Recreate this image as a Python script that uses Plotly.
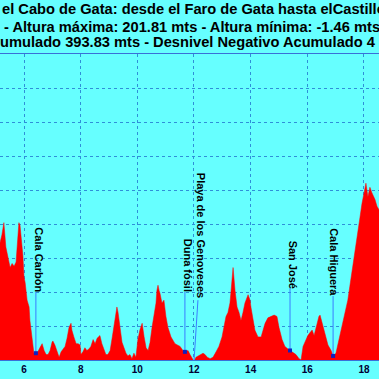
import plotly.graph_objects as go

# ---- data (km along route, elevation in m) ----
km = [5.10, 5.15, 5.22, 5.29, 5.36, 5.44, 5.51, 5.58, 5.65, 5.72, 5.79,
      5.82, 5.86, 5.89, 5.96, 6.00, 6.04, 6.11, 6.18, 6.21, 6.28,
      6.32, 6.35, 6.42, 6.49, 6.56, 6.64, 6.71, 6.78, 6.85, 6.92,
      6.99, 7.02, 7.09, 7.16, 7.24, 7.31, 7.38, 7.45, 7.52, 7.59,
      7.66, 7.69, 7.76, 7.84, 7.91, 7.98, 8.01, 8.08, 8.15, 8.22,
      8.29, 8.36, 8.44, 8.51, 8.58, 8.65, 8.68, 8.75, 8.82, 8.89,
      8.96, 9.04, 9.11, 9.18, 9.25, 9.28, 9.32, 9.39, 9.46, 9.53,
      9.60, 9.67, 9.74, 9.81, 9.88, 9.95, 10.02, 10.09, 10.17, 10.24,
      10.31, 10.38, 10.45, 10.52, 10.59, 10.66, 10.69, 10.73, 10.77, 10.80,
      10.87, 10.94, 11.01, 11.08, 11.19, 11.33, 11.51, 11.61, 11.68, 11.79,
      11.86, 11.93, 12.00, 12.07, 12.14, 12.21, 12.32, 12.39, 12.47, 12.57,
      12.67, 12.78, 12.88, 12.99, 13.06, 13.13, 13.20, 13.27, 13.31, 13.38,
      13.45, 13.52, 13.59, 13.66, 13.73, 13.80, 13.91, 13.98, 14.01, 14.08,
      14.15, 14.26, 14.37, 14.44, 14.51, 14.61, 14.72, 14.83, 14.93, 15.00,
      15.11, 15.21, 15.32, 15.39, 15.50, 15.60, 15.71, 15.78, 15.85, 15.95,
      16.02, 16.09, 16.17, 16.24, 16.34, 16.41, 16.45, 16.52, 16.62, 16.73,
      16.84, 16.91, 17.01, 17.12, 17.22, 17.33, 17.43, 17.50, 17.58, 17.65,
      17.72, 17.79, 17.86, 17.93, 18.00, 18.07, 18.14, 18.21, 18.28, 18.39,
      18.46, 18.53, 18.60]
elev = [84, 86, 92, 101, 83, 75, 68, 71, 69, 72, 96,
        101, 99, 93, 77, 61, 57, 44, 39, 29, 18,
        10, 5, 5, 6, 9, 12, 7, 4, 4, 7,
        13, 14, 11, 6, 2, 6, 8, 10, 16, 24,
        27, 22, 17, 12, 12, 11, 4, 6, 9, 7,
        8, 10, 15, 12, 16, 18, 18, 12, 8, 4,
        4, 7, 16, 26, 35, 39, 35, 24, 13, 9,
        5, 3, 4, 1, 5, 2, 15, 22, 27, 17,
        9, 7, 13, 24, 32, 42, 51, 55, 51, 49,
        42, 44, 32, 24, 17, 12, 10, 7, 6, 7,
        4, 1, -1, 2, 3, 4, 5, 4, 2, 1,
        2, 6, 10, 17, 24, 32, 35, 42, 51, 68,
        51, 39, 35, 29, 35, 42, 48, 44, 39, 29,
        22, 17, 17, 22, 27, 31, 32, 33, 32, 24,
        15, 10, 8, 7, 5, 4, 1, 0, 10, 15,
        18, 20, 22, 18, 27, 32, 33, 27, 20, 11,
        7, 3, 5, 15, 24, 35, 44, 54, 66, 74,
        88, 98, 105, 115, 123, 130, 120, 127, 123, 118,
        113, 110, 108]

wp_names = ["Cala Carbón", "Duna fósil", "Playa de los Genoveses", "San José", "Cala Higuera"]
wp_km = [6.42, 11.68, 12.00, 15.39, 16.91]
wp_elev = [5, 6, -1, 7, 3]

tick_vals = [6, 8, 10, 12, 14, 16, 18]
tick_text = ["6", "8", "10", "12", "14", "16", "18"]

title_lines = [
    "el Cabo de Gata: desde el Faro de Gata hasta elCastillo de los Escullos",
    "- Altura máxima: 201.81 mts - Altura mínima: -1.46 mts",
    "umulado 393.83 mts - Desnivel Negativo Acumulado 4",
]

# ---- layout/style constants ----
BG = "#66FFFF"
GRID = "#2F8FD8"
BORDER = "#3A6FD8"
W = H = 379
M_T, M_B = 54, 19
PLOT_H = H - M_T - M_B
label_km = [6.53, 11.79, 12.25, 15.50, 16.94]
label_y = [74, 70, 92, 70, 72]
line_top_km = [6.42, 11.68, 12.14, 15.39, 16.91]
line_top_y = [50, 50, 44, 53, 47]
title_px_y = [9.0, 27.0, 42.5]
title_px_x = [-0.5, 2.0, -2.5]

fig = go.Figure()
fig.add_trace(go.Scatter(x=km, y=elev, mode="lines", fill="tozeroy",
                         line=dict(color="#FF0000", width=0.5),
                         fillcolor="#FF0000", hoverinfo="skip"))

for i in range(len(wp_names)):
    fig.add_trace(go.Scatter(x=[wp_km[i], line_top_km[i]], y=[wp_elev[i], line_top_y[i]],
                             mode="lines", line=dict(color="#3A7CFF", width=1),
                             hoverinfo="skip", cliponaxis=False))
fig.add_trace(go.Scatter(x=wp_km, y=wp_elev, mode="markers",
                         marker=dict(symbol="square", size=4, color="#1020C0"),
                         cliponaxis=False, hoverinfo="skip"))

for i, name in enumerate(wp_names):
    fig.add_annotation(x=label_km[i], y=label_y[i], xref="x", yref="y",
                       text="<b>" + name + "</b>", textangle=90, showarrow=False,
                       xanchor="center", yanchor="middle",
                       font=dict(family="Liberation Sans, Arial", size=11, color="#000000"))

for i, t in enumerate(title_lines):
    fig.add_annotation(x=title_px_x[i] / W, y=(H - M_B - title_px_y[i]) / PLOT_H,
                       xref="paper", yref="paper", text="<b>" + t + "</b>",
                       showarrow=False, xanchor="left", yanchor="middle",
                       font=dict(family="Liberation Sans, Arial", size=14.67, color="#000000"))

fig.update_layout(
    width=W, height=H, showlegend=False,
    margin=dict(l=0, r=0, t=M_T, b=M_B, pad=0),
    paper_bgcolor=BG, plot_bgcolor=BG,
    xaxis=dict(range=[5.153, 18.531], tickvals=tick_vals, ticktext=tick_text,
               showgrid=True, gridcolor=GRID, griddash="dot", gridwidth=1,
               showline=True, mirror=True, linecolor=BORDER, linewidth=1,
               zeroline=False, ticks="", ticklen=0,
               tickfont=dict(family="Liberation Sans, Arial", size=10, color="#000033", weight="bold")),
    yaxis=dict(range=[0, 225], dtick=25, showticklabels=False,
               showgrid=True, gridcolor=GRID, griddash="dot", gridwidth=1,
               zeroline=False, showline=False, ticks=""),
)

fig.write_html("out.html", config={"displayModeBar": False},
               post_script="document.body.style.margin='0';document.body.style.overflow='hidden';")
